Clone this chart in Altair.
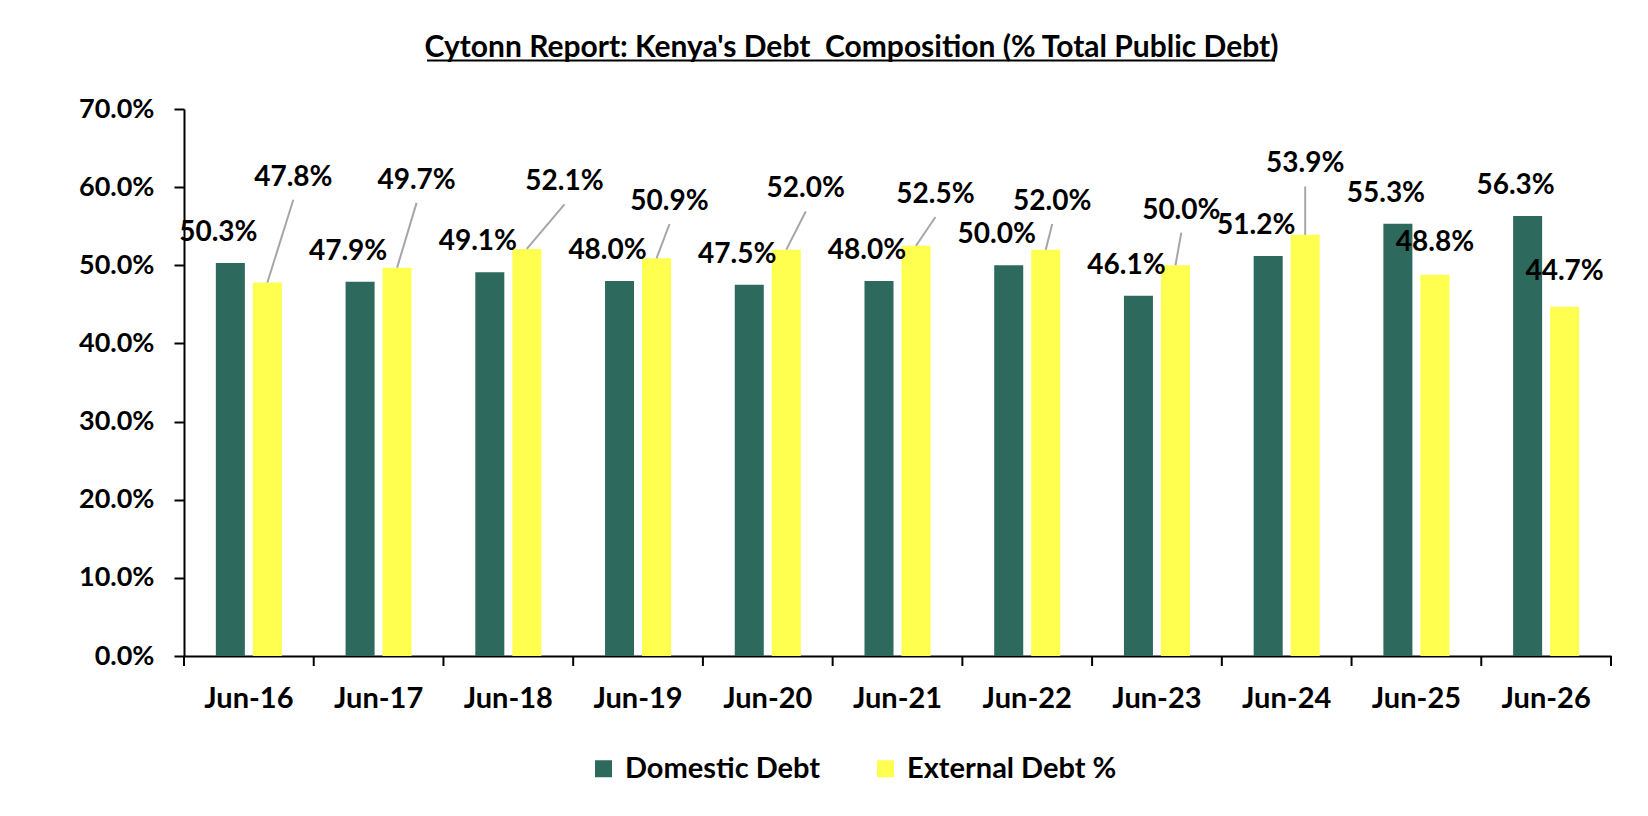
import altair as alt
import pandas as pd

# ---------------- data ----------------
categories = ["Jun-16", "Jun-17", "Jun-18", "Jun-19", "Jun-20", "Jun-21",
              "Jun-22", "Jun-23", "Jun-24", "Jun-25", "Jun-26"]
domestic = [50.3, 47.9, 49.1, 48.0, 47.5, 48.0, 50.0, 46.1, 51.2, 55.3, 56.3]
external = [47.8, 49.7, 52.1, 50.9, 52.0, 52.5, 52.0, 50.0, 53.9, 48.8, 44.7]
# where each external-debt label sits in the reference (in % units)
ext_label_at = [61.2, 60.8, 60.6, 58.1, 59.7, 59.0, 58.1, 57.0, 62.9, 52.9, 49.1]
# sideways shift of each external-debt label (fraction of a category)
ext_label_shift = [0.20, 0.15, 0.29, 0.10, 0.15, 0.15, 0.05, 0.045, 0.0, 0.0, 0.0]
series_names = ["Domestic Debt", "External Debt %"]
series_colors = ["#2D6A5D", "#FFFF50"]
y_ticks = [0, 10, 20, 30, 40, 50, 60, 70]
title_text = "Cytonn Report: Kenya's Debt \u00a0Composition (% Total Public Debt)"

# ---------------- layout / style ----------------
W = 1427
H = 547
PAD_INNER = 0.491
SUB_PAD = 0.216
FONT = "Lato"
FS_Y = 27
FS_X = 29
FS_LAB = 28
N = len(categories)

step = W / N
band = step * (1 - PAD_INNER)
sub_step = band / (2 - SUB_PAD)
OFF = (sub_step / 2) / step          # bar-centre offset, in categories
px_per_unit = H / 70.0
LEADER_GAP = 22 / px_per_unit        # leader stops below the label

bars_df = pd.DataFrame({
    "cat": categories * 2,
    "series": [series_names[0]] * N + [series_names[1]] * N,
    "value": domestic + external,
})

ov_df = pd.DataFrame({
    "cat": categories,
    "idx": list(range(N)),
    "dom": domestic,
    "ext": external,
    "lab_at": ext_label_at,
    "shift": ext_label_shift,
})

tick_df = pd.DataFrame({"t": list(range(N + 1))})

xq_scale = alt.Scale(domain=[0, N], nice=False, zero=False)
yq_scale = alt.Scale(domain=[0, 70], nice=False)

bars = alt.Chart(bars_df).mark_bar().encode(
    x=alt.X("cat:N", sort=categories,
            scale=alt.Scale(paddingInner=PAD_INNER, paddingOuter=PAD_INNER / 2),
            axis=alt.Axis(title=None, labelAngle=0, ticks=False,
                          domainColor="black", domainWidth=2,
                          labelFont=FONT, labelFontSize=FS_X, labelFontWeight="bold",
                          labelColor="black", labelPadding=28)),
    xOffset=alt.XOffset("series:N", sort=series_names,
                        scale=alt.Scale(paddingInner=SUB_PAD, paddingOuter=0)),
    y=alt.Y("value:Q", scale=yq_scale,
            axis=alt.Axis(title=None, values=y_ticks, grid=False,
                          labelExpr="format(datum.value, '.1f') + '%'",
                          domainColor="black", domainWidth=2,
                          tickColor="black", tickWidth=2, tickSize=10,
                          labelPadding=20, labelFont=FONT, labelFontSize=FS_Y,
                          labelFontWeight="bold", labelColor="black")),
    color=alt.Color("series:N", sort=series_names,
                    scale=alt.Scale(domain=series_names, range=series_colors),
                    legend=alt.Legend(title=None, orient="none", direction="horizontal",
                                      legendX=405, legendY=645, padding=0,
                                      symbolType="square", symbolSize=289,
                                      symbolStrokeWidth=0, labelOffset=7,
                                      columnPadding=50, labelLimit=500,
                                      labelFont=FONT, labelFontSize=FS_X,
                                      labelFontWeight="bold", labelColor="black")),
)

base = alt.Chart(ov_df).transform_calculate(
    xdom=f"datum.idx + 0.5 - {OFF}",
    xext=f"datum.idx + 0.5 + {OFF}",
    xlab=f"datum.idx + 0.5 + {OFF} + datum.shift",
    ltop=f"datum.lab_at - {LEADER_GAP}",
    domtxt="format(datum.dom, '.1f') + '%'",
    exttxt="format(datum.ext, '.1f') + '%'",
)

leaders = base.transform_filter("datum.lab_at - datum.ext > 5").mark_rule(
    color="#A6A6A6", strokeWidth=2
).encode(
    x=alt.X("xext:Q", scale=xq_scale, axis=None),
    y=alt.Y("ext:Q", scale=yq_scale, axis=None),
    x2="xlab:Q",
    y2="ltop:Q",
)

dom_text = base.mark_text(font=FONT, fontSize=FS_LAB, fontWeight="bold", color="black",
                          baseline="middle", align="center", dx=-12, dy=-30).encode(
    x=alt.X("xdom:Q", scale=xq_scale, axis=None),
    y=alt.Y("dom:Q", scale=yq_scale, axis=None),
    text="domtxt:N",
)

ext_text = base.mark_text(font=FONT, fontSize=FS_LAB, fontWeight="bold", color="black",
                          baseline="middle", align="center").encode(
    x=alt.X("xlab:Q", scale=xq_scale, axis=None),
    y=alt.Y("lab_at:Q", scale=yq_scale, axis=None),
    text="exttxt:N",
)

xticks = alt.Chart(tick_df).mark_rule(color="black", strokeWidth=2).encode(
    x=alt.X("t:Q", scale=xq_scale, axis=None),
    y=alt.value(H),
    y2=alt.value(H + 10),
)

underline = alt.Chart(pd.DataFrame({"u": [0]})).mark_rule(color="black", strokeWidth=2).encode(
    x=alt.value(243), x2=alt.value(1091), y=alt.value(-48.5),
)

chart = alt.layer(bars, leaders, dom_text, ext_text, xticks, underline).resolve_scale(
    x="independent", y="independent"
).properties(
    width=W, height=H,
    title=alt.TitleParams(title_text, font=FONT, fontSize=30, fontWeight="bold",
                          color="black", anchor="middle", frame="group", dx=-46,
                          offset=3, dy=30, baseline="alphabetic"),
    padding={"left": 176, "top": 101, "right": 29, "bottom": 150},
    autosize=alt.AutoSizeParams(type="none"),
    background="white",
).configure_view(stroke=None)

chart.save("out.html", embed_options={"renderer": "svg", "actions": False})
